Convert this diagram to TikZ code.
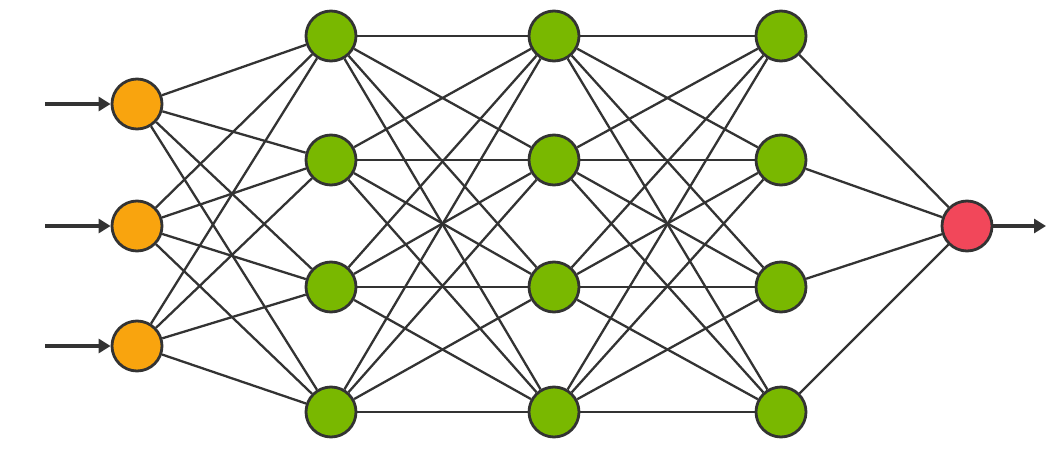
\documentclass[tikz,border=0pt]{standalone}
\usetikzlibrary{arrows.meta}
\definecolor{inorange}{HTML}{F9A40E}
\definecolor{hidgreen}{HTML}{79B800}
\definecolor{outred}{HTML}{F2475A}
\definecolor{edge}{HTML}{333333}
\begin{document}
\begin{tikzpicture}[x=1pt,y=-1pt,
  neuron/.style={circle,draw=edge,line width=2.8pt,minimum size=50pt,inner sep=0pt},
  conn/.style={draw=edge,line width=2.3pt},
  feed/.style={draw=edge,line width=4pt,-{Triangle[length=12pt,width=14pt]}}]
\useasboundingbox (0,0) rectangle (1062,452);
\foreach \i/\y in {1/104,2/226,3/346} \node[neuron,fill=inorange] (i\i) at (137,\y) {};
\foreach \l/\x in {a/331,b/554,c/781}
  \foreach \j/\y in {1/36,2/160,3/287,4/412} \node[neuron,fill=hidgreen] (\l\j) at (\x,\y) {};
\node[neuron,fill=outred] (o) at (967,226) {};
\foreach \i in {1,2,3} \foreach \j in {1,...,4} \draw[conn] (i\i) -- (a\j);
\foreach \i in {1,...,4} \foreach \j in {1,...,4} {\draw[conn] (a\i) -- (b\j); \draw[conn] (b\i) -- (c\j);}
\foreach \i in {1,...,4} \draw[conn] (c\i) -- (o);
\foreach \i/\y in {1/104,2/226,3/346} {\coordinate (s\i) at (45,\y); \draw[feed] (s\i) -- (i\i);}
\coordinate (e) at (1046,226);
\draw[feed] (o) -- (e);
\end{tikzpicture}
\end{document}
